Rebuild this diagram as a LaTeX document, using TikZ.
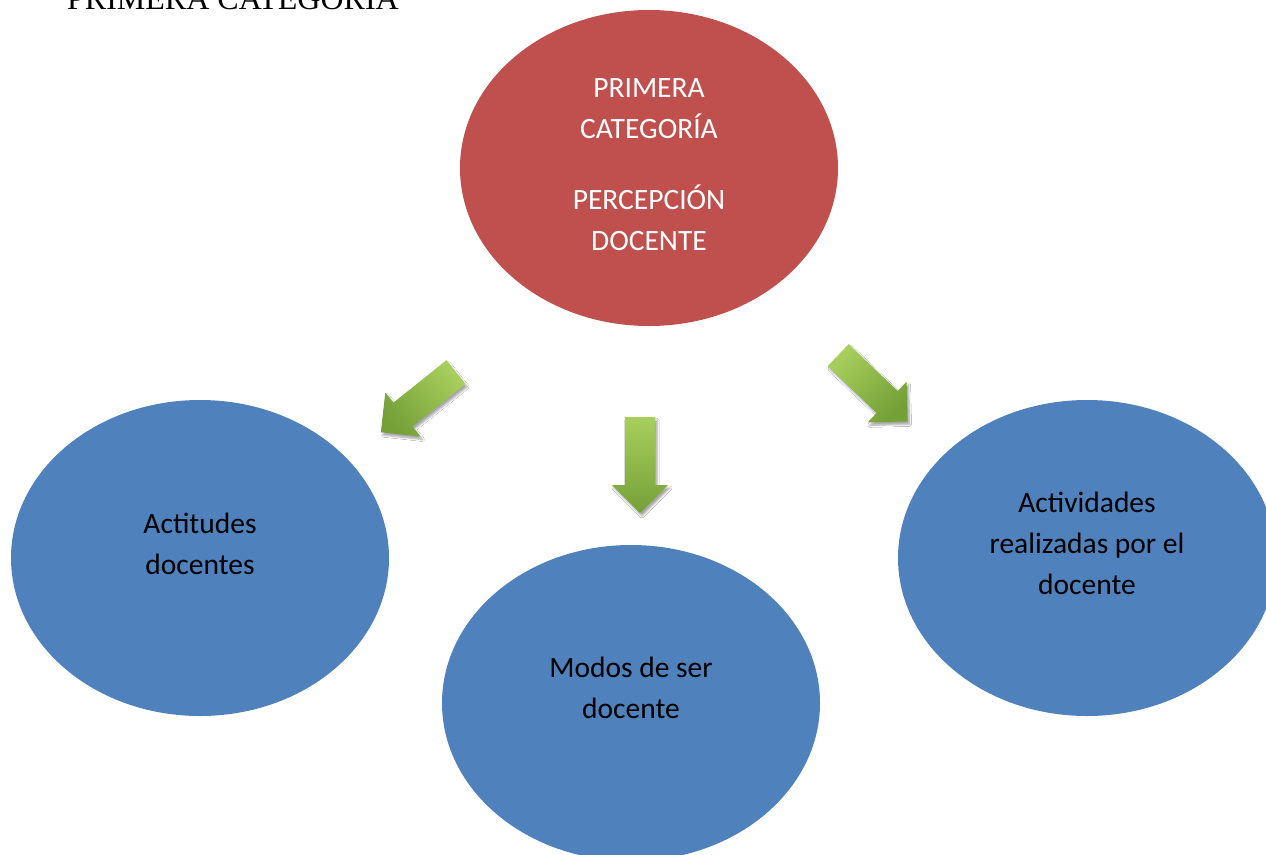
\documentclass[tikz,border=0pt]{standalone}
\usepackage{fontspec}
\setmainfont{Carlito}
\newfontfamily\titlefont{Liberation Serif}
\usetikzlibrary{shapes.geometric,shapes.arrows,shadows.blur}
\definecolor{ored}{HTML}{C0504D}
\definecolor{oblue}{HTML}{4F81BD}
\definecolor{glight}{HTML}{A8CF5C}
\definecolor{gdark}{HTML}{74A038}
\tikzset{
  bubble/.style={ellipse, minimum width=378pt, minimum height=316pt, inner sep=0pt, draw=none},
  bubbletext/.style={align=center, font=\fontsize{29.5}{41}\selectfont, inner sep=0pt},
  garrow/.style={single arrow, minimum height=96pt, inner xsep=0pt, inner ysep=15pt,
    single arrow head extend=13pt, single arrow tip angle=90, anchor=tail,
    top color=glight, bottom color=gdark, draw=none,
    blur shadow={shadow xshift=2pt, shadow yshift=-3pt, shadow blur steps=6, shadow opacity=35}},
}
\begin{document}
\begin{tikzpicture}[x=1pt,y=-1pt]
\clip (0,0) rectangle (1266,854);
\fill[white] (0,0) rectangle (1266,854);
\node[anchor=base west, inner sep=0pt, font=\titlefont\fontsize{32}{36}\selectfont] (title) at (67,9) {PRIMERA CATEGORÍA};
\node[bubble, fill=ored] (top) at (649,168) {};
\node[bubbletext, text=white] (t1) at (649,109) {PRIMERA\\CATEGORÍA};
\node[bubbletext, text=white] (t2) at (649,218) {PERCEPCIÓN\\DOCENTE};
\node[bubble, fill=oblue] (left) at (200,558) {};
\node[bubbletext] (lt) at (200,544) {Actitudes\\docentes};
\node[bubble, fill=oblue] (mid) at (631,703) {};
\node[bubbletext] (mt) at (631,688) {Modos de ser\\docente};
\node[bubble, fill=oblue] (right) at (1087,558) {};
\node[bubbletext] (rt) at (1087,543) {Actividades\\realizadas por el\\docente};
\node[garrow, rotate=218.7, shading angle=-50] (a1) at (456,372) {};
\node[garrow, rotate=270, shading angle=0] (a2) at (640,417) {};
\node[garrow, rotate=-43.7, shading angle=45] (a3) at (838,355) {};
\end{tikzpicture}
\end{document}
